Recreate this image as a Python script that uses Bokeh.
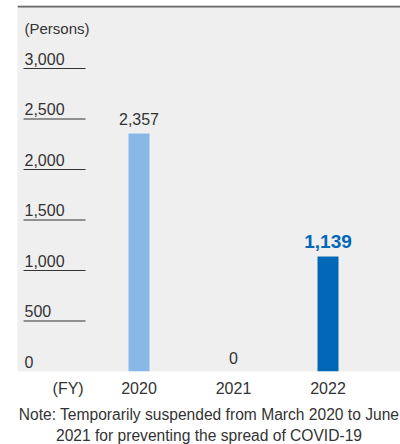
from bokeh.plotting import figure
from bokeh.models import Range1d, FixedTicker, Span, Title, ColumnDataSource
from bokeh.embed import file_html
from bokeh.resources import INLINE
from bokeh.core.properties import value

# ---- data ----
categories = ["2020", "2021", "2022"]
persons = [2357, 0, 1139]
bar_colors = ["#88b9e6", "#88b9e6", "#0068b7"]
label_colors = ["#333333", "#333333", "#0068b7"]
label_styles = ["normal", "normal", "bold"]
label_sizes = ["16px", "16px", "19px"]
y_ticks = [0, 500, 1000, 1500, 2000, 2500, 3000]
y_unit = "(Persons)"
x_unit = "(FY)"
note_lines = ["Note: Temporarily suspended from March 2020 to June",
              "2021 for preventing the spread of COVID-19"]

FONT = "Liberation Sans"
TXT = "#333333"

FW, FH = 383, 366          # grey panel size in px
PX_PER_UNIT = 303 / 3000.0  # vertical scale
y_end = FH / PX_PER_UNIT
STEP = 94.5                 # px between categories
FIRST = 121.5               # px from panel left to first category
x_start = -FIRST / STEP
x_end = (FW - FIRST) / STEP

p = figure(frame_width=FW, frame_height=FH, output_backend="svg", toolbar_location=None,
           x_range=Range1d(x_start, x_end), y_range=Range1d(0, y_end),
           min_border_left=17, min_border_right=0, min_border_top=5, min_border_bottom=73)
p.extra_x_ranges = {"px": Range1d(0, FW)}
p.extra_y_ranges = {"py": Range1d(FH, 0)}
p.background_fill_color = "#efefef"
p.border_fill_color = "white"
p.outline_line_color = None
p.grid.visible = False
p.yaxis.visible = False

idx = list(range(len(categories)))
src = ColumnDataSource(dict(x=idx, top=persons, color=bar_colors,
                            lab=[f"{v:,}" for v in persons], lc=label_colors,
                            ls=label_styles, fs=label_sizes))
p.vbar(x="x", top="top", width=21 / STEP, fill_color="color", line_color=None, source=src)
p.text(x="x", y="top", text="lab", text_color="lc", text_font_style="ls",
       text_font_size="fs", text_font=value(FONT), text_align="center",
       text_baseline="bottom", y_offset=-8, source=src)

# y ticks: left-aligned labels sitting on short underlines
n = len(y_ticks)
tsrc = ColumnDataSource(dict(y=y_ticks, lab=[f"{t:,}" for t in y_ticks], tx=[7] * n))
p.text(x="tx", y="y", text="lab", x_range_name="px", text_font=value(FONT),
       text_font_size="16px", text_color=TXT, text_baseline="bottom",
       y_offset=-4, source=tsrc)
usrc = ColumnDataSource(dict(y=y_ticks[1:], x0=[6] * (n - 1), x1=[68] * (n - 1)))
p.segment(x0="x0", x1="x1", y0="y", y1="y", x_range_name="px", line_color="#333333",
          line_width=1.2, source=usrc)

p.text(x=[7], y=[23], text=[y_unit], x_range_name="px", y_range_name="py",
       text_font=value(FONT), text_font_size="15px", text_color=TXT, text_baseline="middle")

p.add_layout(Span(location=1, dimension="width", y_range_name="py", line_color="#6b6b6b", line_width=2))

# x axis with category labels and the unit label
unit_pos = -0.75
p.xaxis.ticker = FixedTicker(ticks=[unit_pos] + idx)
overrides = {i: c for i, c in zip(idx, categories)}
overrides[unit_pos] = x_unit
p.xaxis.major_label_overrides = overrides
p.xaxis.axis_line_color = None
p.xaxis.major_tick_line_color = None
p.xaxis.minor_tick_line_color = None
p.xaxis.major_tick_out = 0
p.xaxis.major_tick_in = 0
p.xaxis.major_label_standoff = 8
p.xaxis.major_label_text_font = FONT
p.xaxis.major_label_text_font_size = "16px"
p.xaxis.major_label_text_color = TXT

for line, so in zip(note_lines, [8, -4]):
    p.add_layout(Title(text=line, align="center", text_font=FONT, text_font_size="15.6px",
                       text_font_style="normal", text_color=TXT, standoff=so), "below")

open("out.html", "w").write(file_html(p, INLINE))
